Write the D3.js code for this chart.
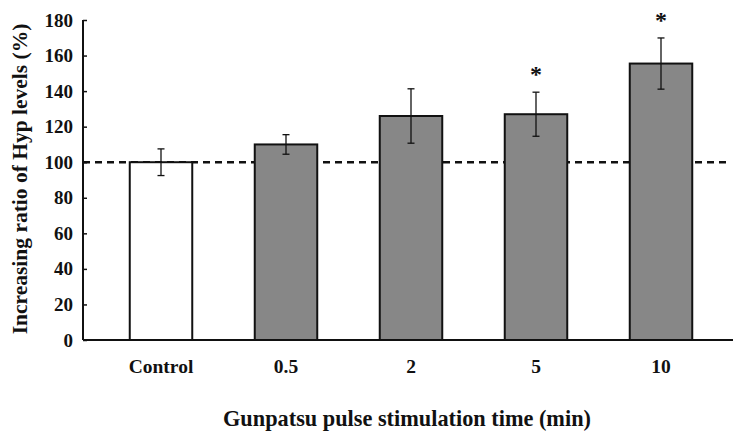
<!DOCTYPE html>
<html>
<head>
<meta charset="utf-8">
<script src="https://cdn.jsdelivr.net/npm/d3@7"></script>
<style>
  html, body { margin: 0; padding: 0; background: #fff; }
  svg { display: block; }
  text { font-family: "Liberation Serif", "Times New Roman", serif; font-weight: bold; fill: #111; }
</style>
</head>
<body>
<svg id="chart" width="733" height="431"></svg>
<script>
const categories = ["Control", "0.5", "2", "5", "10"];
const values = [100, 110, 126, 127, 155.5];
const errors = [7.5, 5.5, 15.3, 12.4, 14.4];
const significant = [false, false, false, true, true];
const fills = ["#ffffff", "#878787", "#878787", "#878787", "#878787"];
const yTicks = [0, 20, 40, 60, 80, 100, 120, 140, 160, 180];
const referenceLevel = 100;
const yTitle = "Increasing ratio of Hyp levels (%)";
const xTitle = "Gunpatsu pulse stimulation time (min)";

const svg = d3.select("#chart");
const axisX = 83, plotRight = 733, yTop = 20, yBottom = 340;

const x = d3.scaleBand().domain(categories).range([98.5, 723.5]).paddingInner(0.5).paddingOuter(0.25);
const y = d3.scaleLinear().domain([0, 180]).range([yBottom, yTop]);

const data = categories.map((c, i) => ({ c, v: values[i], e: errors[i], s: significant[i], f: fills[i] }));

// dashed reference line
svg.append("line")
  .attr("x1", axisX).attr("x2", plotRight - 3)
  .attr("y1", y(referenceLevel)).attr("y2", y(referenceLevel))
  .attr("stroke", "#111").attr("stroke-width", 2.4).attr("stroke-dasharray", "7,5");

// bars
svg.selectAll("rect.bar").data(data).enter().append("rect")
  .attr("class", "bar")
  .attr("x", d => x(d.c)).attr("width", x.bandwidth())
  .attr("y", d => y(d.v)).attr("height", d => y(0) - y(d.v))
  .attr("fill", d => d.f).attr("stroke", "#111").attr("stroke-width", 2);

// error bars
const capW = 3.5;
const eb = svg.selectAll("g.err").data(data).enter().append("g").attr("class", "err")
  .attr("stroke", "#111").attr("stroke-width", 1.3);
eb.append("line")
  .attr("x1", d => x(d.c) + x.bandwidth() / 2).attr("x2", d => x(d.c) + x.bandwidth() / 2)
  .attr("y1", d => y(d.v + d.e)).attr("y2", d => y(d.v - d.e));
eb.append("line")
  .attr("x1", d => x(d.c) + x.bandwidth() / 2 - capW).attr("x2", d => x(d.c) + x.bandwidth() / 2 + capW)
  .attr("y1", d => y(d.v + d.e)).attr("y2", d => y(d.v + d.e));
eb.append("line")
  .attr("x1", d => x(d.c) + x.bandwidth() / 2 - capW).attr("x2", d => x(d.c) + x.bandwidth() / 2 + capW)
  .attr("y1", d => y(d.v - d.e)).attr("y2", d => y(d.v - d.e));

// significance asterisks
svg.selectAll("text.sig").data(data.filter(d => d.s)).enter().append("text")
  .attr("class", "sig")
  .attr("x", d => x(d.c) + x.bandwidth() / 2)
  .attr("y", d => y(d.v + d.e) - 10)
  .attr("text-anchor", "middle")
  .style("font-size", "24px")
  .text("*");

// y axis
const yAxis = d3.axisLeft(y).tickValues(yTicks).tickSize(-4).tickPadding(10).tickFormat(d3.format("d"));
const gy = svg.append("g").attr("transform", `translate(${axisX},0)`).call(yAxis);
gy.select(".domain").attr("stroke", "#111").attr("stroke-width", 2).attr("d", `M0,${yTop}V${yBottom}`);
gy.selectAll(".tick line").attr("stroke", "#111").attr("stroke-width", 1.5);
gy.selectAll(".tick text").style("font-size", "19px").style("font-family", "Liberation Serif").style("font-weight", "bold").attr("fill", "#111");

// x axis
const xAxis = d3.axisBottom(x).tickSize(0).tickPadding(19);
const gx = svg.append("g").attr("transform", `translate(0,${yBottom})`).call(xAxis);
gx.select(".domain").attr("stroke", "#111").attr("stroke-width", 2).attr("d", `M${axisX},0H${plotRight}`);
gx.selectAll(".tick text").style("font-size", "19.5px").style("font-family", "Liberation Serif").style("font-weight", "bold").attr("fill", "#111");

// titles
svg.append("text")
  .attr("transform", `translate(27,179) rotate(-90)`)
  .attr("text-anchor", "middle")
  .style("font-size", "21.5px")
  .text(yTitle);
svg.append("text")
  .attr("x", 407).attr("y", 426)
  .attr("text-anchor", "middle")
  .style("font-size", "22.3px")
  .text(xTitle);
</script>
</body>
</html>
